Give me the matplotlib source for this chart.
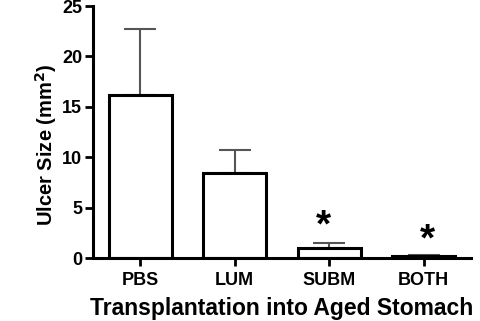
import matplotlib
matplotlib.use('Agg')
from matplotlib import pyplot as plt

plt.rcParams['font.family'] = ['Liberation Sans', 'DejaVu Sans']
plt.rcParams['font.weight'] = 'bold'

groups = ['PBS', 'LUM', 'SUBM', 'BOTH']
means = [16.2, 8.4, 1.0, 0.25]
errors = [6.5, 2.3, 0.5, 0.1]
signif = [False, False, True, True]
star_y = [3.1, 1.7]  # for SUBM and BOTH

fig = plt.figure(figsize=(4.8, 3.21), dpi=100)
ax = fig.add_axes([0.194, 0.196, 0.787, 0.785])

x = range(len(groups))
ax.errorbar(x, means, yerr=[[0] * len(errors), errors], fmt='none',
            ecolor='#555555', elinewidth=1.5, capsize=11.5, capthick=1.5, zorder=1)
ax.bar(x, means, width=0.67, color='white', edgecolor='black', linewidth=2.2, zorder=2)

stars = [i for i, s in enumerate(signif) if s]
for i, sy in zip(stars, star_y):
    ax.text(i - 0.06 if i == 2 else i + 0.04, sy, '*', ha='center', va='center',
            fontsize=28, fontweight='bold')

ax.set_xlim(-0.5, 3.5)
ax.set_ylim(0, 25)
ax.set_yticks([0, 5, 10, 15, 20, 25])
ax.set_xticks(list(x))
ax.set_xticklabels(groups)
ax.tick_params(axis='both', width=2, length=6, labelsize=13)
ax.tick_params(axis='y', pad=2)
ax.tick_params(axis='x', pad=4)
for lab in ax.get_xticklabels() + ax.get_yticklabels():
    lab.set_fontweight('bold')

for side in ['top', 'right']:
    ax.spines[side].set_visible(False)
for side in ['left', 'bottom']:
    ax.spines[side].set_linewidth(2.2)

ax.set_ylabel('Ulcer Size (mm$^\\mathbf{2}$)', fontsize=14.5, fontweight='bold')
ax.yaxis.set_label_coords(-0.09, 0.45)
ax.set_xlabel('Transplantation into Aged Stomach', fontsize=16.5, fontweight='bold', labelpad=6)

fig.savefig('out.png', dpi=100)
